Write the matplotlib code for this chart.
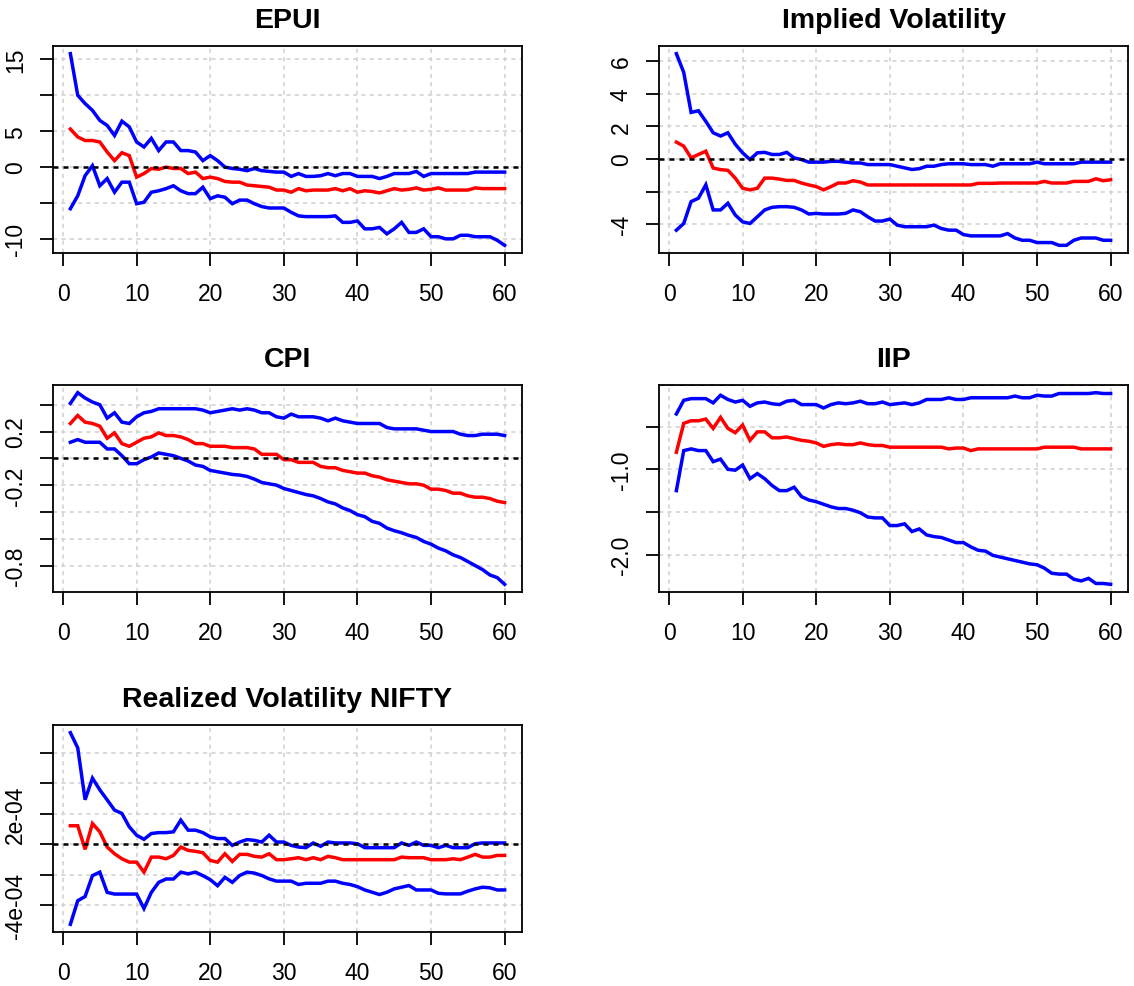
import numpy as np
import matplotlib
matplotlib.use("Agg")
import matplotlib.pyplot as plt

plt.rcParams['font.family'] = ['Liberation Sans', 'DejaVu Sans']

horizon = list(range(1, 61))

titles = ["EPUI", "Implied Volatility", "CPI", "IIP", "Realized Volatility NIFTY"]

epui_upper = [15.8, 10.0, 8.85, 7.9, 6.5, 5.8, 4.4, 6.4, 5.6, 3.5,
              2.8, 4.0, 2.3, 3.5, 3.5, 2.3, 2.3, 2.1, 0.9, 1.6,
              0.9, 0.0, -0.2, -0.3, -0.5, -0.2, -0.5, -0.6, -0.7, -0.7,
              -1.3, -0.9, -1.3, -1.3, -1.2, -0.9, -1.2, -0.9, -0.9, -1.3,
              -1.3, -1.3, -1.6, -1.3, -0.9, -0.9, -0.9, -0.6, -1.3, -0.9,
              -0.9, -0.9, -0.9, -0.9, -0.9, -0.7, -0.7, -0.7, -0.7, -0.7]
epui_irf = [5.3, 4.2, 3.7, 3.7, 3.5, 2.1, 0.9, 2.0, 1.6, -1.4,
            -0.9, -0.2, -0.3, 0.0, -0.2, -0.2, -0.9, -0.7, -1.6, -1.4,
            -1.6, -2.0, -2.1, -2.1, -2.5, -2.6, -2.7, -2.8, -3.2, -3.2,
            -3.5, -3.0, -3.3, -3.2, -3.2, -3.2, -3.0, -3.3, -3.0, -3.5,
            -3.3, -3.4, -3.6, -3.3, -3.0, -3.2, -3.1, -2.9, -3.2, -3.1,
            -2.9, -3.2, -3.2, -3.2, -3.2, -2.9, -3.0, -3.0, -3.0, -3.0]
epui_lower = [-5.8, -4.0, -1.2, 0.2, -2.6, -1.6, -3.5, -2.1, -2.1, -5.1,
              -4.9, -3.5, -3.3, -3.0, -2.6, -3.3, -3.7, -3.7, -2.8, -4.4,
              -4.0, -4.2, -5.1, -4.6, -4.6, -5.1, -5.5, -5.7, -5.7, -5.7,
              -6.3, -6.8, -6.9, -6.9, -6.9, -6.9, -6.8, -7.7, -7.7, -7.5,
              -8.6, -8.6, -8.4, -9.3, -8.6, -7.7, -9.1, -9.1, -8.6, -9.7,
              -9.7, -10.0, -10.0, -9.5, -9.5, -9.7, -9.7, -9.7, -10.2, -10.9]

iv_upper = [6.45, 5.3, 2.85, 2.95, 2.3, 1.6, 1.4, 1.6, 0.9, 0.37,
            -0.04, 0.37, 0.4, 0.27, 0.27, 0.4, 0.06, -0.04, -0.2, -0.2,
            -0.2, -0.15, -0.15, -0.2, -0.25, -0.25, -0.35, -0.35, -0.35, -0.35,
            -0.45, -0.55, -0.65, -0.6, -0.45, -0.45, -0.35, -0.3, -0.3, -0.3,
            -0.35, -0.35, -0.35, -0.45, -0.3, -0.3, -0.3, -0.3, -0.3, -0.2,
            -0.3, -0.3, -0.3, -0.3, -0.3, -0.2, -0.2, -0.2, -0.2, -0.2]
iv_irf = [1.03, 0.78, 0.06, 0.27, 0.47, -0.56, -0.66, -0.7, -1.18, -1.8,
          -1.9, -1.8, -1.18, -1.18, -1.24, -1.32, -1.32, -1.48, -1.6, -1.7,
          -1.9, -1.7, -1.48, -1.48, -1.34, -1.42, -1.6, -1.6, -1.6, -1.6,
          -1.6, -1.6, -1.6, -1.6, -1.6, -1.6, -1.6, -1.6, -1.6, -1.6,
          -1.6, -1.5, -1.5, -1.5, -1.48, -1.48, -1.48, -1.48, -1.48, -1.48,
          -1.38, -1.48, -1.48, -1.48, -1.38, -1.38, -1.38, -1.22, -1.34, -1.28]
iv_lower = [-4.37, -3.96, -2.62, -2.41, -1.59, -3.13, -3.13, -2.72, -3.44, -3.86,
            -3.96, -3.55, -3.13, -2.97, -2.93, -2.93, -2.97, -3.13, -3.38, -3.34,
            -3.38, -3.38, -3.38, -3.34, -3.13, -3.24, -3.55, -3.81, -3.81, -3.69,
            -4.06, -4.16, -4.16, -4.16, -4.16, -4.06, -4.27, -4.37, -4.37, -4.64,
            -4.72, -4.72, -4.72, -4.72, -4.72, -4.58, -4.85, -4.99, -4.99, -5.13,
            -5.13, -5.13, -5.3, -5.3, -4.99, -4.85, -4.85, -4.85, -4.99, -4.99]

cpi_upper = [0.41, 0.49, 0.45, 0.42, 0.40, 0.30, 0.34, 0.27, 0.26, 0.31,
             0.34, 0.35, 0.37, 0.37, 0.37, 0.37, 0.37, 0.37, 0.36, 0.34,
             0.35, 0.36, 0.37, 0.36, 0.37, 0.36, 0.34, 0.34, 0.31, 0.30,
             0.33, 0.31, 0.31, 0.31, 0.30, 0.28, 0.30, 0.28, 0.27, 0.26,
             0.26, 0.26, 0.26, 0.23, 0.22, 0.22, 0.22, 0.22, 0.21, 0.20,
             0.20, 0.20, 0.20, 0.18, 0.17, 0.17, 0.18, 0.18, 0.18, 0.17]
cpi_irf = [0.26, 0.32, 0.27, 0.26, 0.24, 0.15, 0.19, 0.11, 0.09, 0.12,
           0.15, 0.16, 0.19, 0.17, 0.17, 0.16, 0.14, 0.11, 0.11, 0.09,
           0.09, 0.09, 0.08, 0.08, 0.08, 0.07, 0.03, 0.03, 0.03, -0.01,
           -0.01, -0.03, -0.03, -0.03, -0.06, -0.07, -0.07, -0.09, -0.10, -0.11,
           -0.11, -0.13, -0.14, -0.16, -0.17, -0.18, -0.19, -0.19, -0.20, -0.23,
           -0.23, -0.24, -0.26, -0.26, -0.28, -0.29, -0.29, -0.30, -0.32, -0.33]
cpi_lower = [0.12, 0.14, 0.12, 0.12, 0.12, 0.07, 0.07, 0.02, -0.04, -0.04,
             -0.01, 0.01, 0.04, 0.03, 0.02, 0.00, -0.02, -0.05, -0.06, -0.09,
             -0.10, -0.11, -0.12, -0.125, -0.135, -0.155, -0.18, -0.19, -0.20, -0.225,
             -0.24, -0.255, -0.27, -0.28, -0.30, -0.325, -0.34, -0.37, -0.39, -0.42,
             -0.435, -0.47, -0.485, -0.52, -0.54, -0.555, -0.575, -0.59, -0.62, -0.64,
             -0.67, -0.69, -0.72, -0.74, -0.77, -0.80, -0.83, -0.87, -0.89, -0.94]

iip_upper = [-0.35, -0.19, -0.17, -0.17, -0.17, -0.22, -0.13, -0.18, -0.21, -0.19,
             -0.26, -0.22, -0.21, -0.23, -0.24, -0.20, -0.19, -0.24, -0.24, -0.24,
             -0.28, -0.24, -0.22, -0.23, -0.22, -0.20, -0.23, -0.23, -0.21, -0.24,
             -0.23, -0.22, -0.24, -0.22, -0.18, -0.18, -0.18, -0.16, -0.18, -0.18,
             -0.16, -0.16, -0.16, -0.16, -0.16, -0.16, -0.14, -0.16, -0.16, -0.13,
             -0.14, -0.14, -0.11, -0.11, -0.11, -0.11, -0.11, -0.10, -0.11, -0.11]
iip_irf = [-0.80, -0.46, -0.43, -0.43, -0.41, -0.52, -0.39, -0.52, -0.57, -0.48,
           -0.66, -0.56, -0.56, -0.63, -0.63, -0.62, -0.64, -0.66, -0.67, -0.69,
           -0.73, -0.71, -0.70, -0.71, -0.71, -0.69, -0.71, -0.72, -0.72, -0.74,
           -0.74, -0.74, -0.74, -0.74, -0.74, -0.74, -0.74, -0.76, -0.75, -0.75,
           -0.78, -0.76, -0.76, -0.76, -0.76, -0.76, -0.76, -0.76, -0.76, -0.76,
           -0.74, -0.74, -0.74, -0.74, -0.74, -0.76, -0.76, -0.76, -0.76, -0.76]
iip_lower = [-1.25, -0.78, -0.76, -0.78, -0.78, -0.91, -0.88, -1.00, -1.01, -0.95,
             -1.11, -1.05, -1.11, -1.19, -1.25, -1.25, -1.21, -1.32, -1.36, -1.38,
             -1.41, -1.44, -1.46, -1.46, -1.48, -1.51, -1.56, -1.57, -1.57, -1.66,
             -1.66, -1.64, -1.73, -1.70, -1.77, -1.79, -1.80, -1.83, -1.86, -1.86,
             -1.91, -1.95, -1.96, -2.01, -2.03, -2.05, -2.07, -2.09, -2.11, -2.12,
             -2.16, -2.22, -2.23, -2.23, -2.29, -2.31, -2.28, -2.34, -2.34, -2.35]

# realized volatility values in units of 1e-04
rv_upper = [7.34, 6.34, 2.93, 4.35, 3.58, 2.92, 2.25, 2.03, 1.15, 0.60,
            0.33, 0.71, 0.77, 0.77, 0.82, 1.59, 0.93, 0.93, 0.77, 0.49,
            0.38, 0.38, -0.07, 0.15, 0.31, 0.26, 0.15, 0.60, 0.15, 0.15,
            -0.07, -0.18, -0.22, 0.09, -0.13, 0.15, 0.09, 0.09, 0.09, 0.04,
            -0.22, -0.22, -0.22, -0.22, -0.22, 0.09, -0.07, 0.15, -0.07, -0.07,
            -0.22, -0.07, -0.22, -0.22, -0.22, 0.04, 0.09, 0.09, 0.09, 0.09]
rv_irf = [1.22, 1.22, -0.33, 1.37, 0.82, -0.18, -0.62, -0.95, -1.17, -1.17,
          -1.83, -0.84, -0.84, -0.95, -0.73, -0.18, -0.40, -0.46, -0.55, -1.06,
          -1.17, -0.62, -1.13, -0.66, -0.66, -0.79, -0.84, -0.62, -1.01, -1.01,
          -0.95, -0.88, -1.01, -0.88, -1.01, -0.79, -0.88, -1.01, -1.01, -1.01,
          -1.01, -1.01, -1.01, -1.01, -1.01, -0.84, -0.88, -0.88, -0.88, -1.01,
          -1.01, -1.01, -0.95, -1.01, -0.84, -0.66, -0.84, -0.84, -0.73, -0.73]
rv_lower = [-5.26, -3.71, -3.43, -2.06, -1.83, -3.16, -3.27, -3.27, -3.27, -3.27,
            -4.22, -3.16, -2.50, -2.28, -2.28, -1.83, -1.94, -1.83, -2.06, -2.32,
            -2.72, -2.17, -2.50, -2.05, -1.83, -1.89, -2.05, -2.27, -2.42, -2.42,
            -2.42, -2.64, -2.56, -2.56, -2.56, -2.42, -2.42, -2.56, -2.64, -2.78,
            -3.00, -3.15, -3.30, -3.15, -2.93, -2.82, -2.71, -3.00, -3.00, -3.00,
            -3.22, -3.26, -3.26, -3.26, -3.08, -2.93, -2.82, -2.86, -3.00, -3.00]
rv_unit = 1e-4

x_ticks = [0, 10, 20, 30, 40, 50, 60]

epui_yticks = [-10, -5, 0, 5, 10, 15]
epui_ylabels = ["-10", "", "0", "5", "", "15"]
iv_yticks = [-4, -2, 0, 2, 4, 6]
iv_ylabels = ["-4", "", "0", "2", "4", "6"]
cpi_yticks = [-0.8, -0.6, -0.4, -0.2, 0.0, 0.2, 0.4]
cpi_ylabels = ["-0.8", "", "", "-0.2", "", "0.2", ""]
iip_yticks = [-2.0, -1.5, -1.0, -0.5]
iip_ylabels = ["-2.0", "", "-1.0", ""]
rv_yticks = [-4e-4, -2e-4, 0.0, 2e-4, 4e-4, 6e-4]
rv_ylabels = ["-4e-04", "", "", "2e-04", "", ""]

panels = [
    (titles[0], epui_lower, epui_irf, epui_upper, 1.0, epui_yticks, epui_ylabels),
    (titles[1], iv_lower, iv_irf, iv_upper, 1.0, iv_yticks, iv_ylabels),
    (titles[2], cpi_lower, cpi_irf, cpi_upper, 1.0, cpi_yticks, cpi_ylabels),
    (titles[3], iip_lower, iip_irf, iip_upper, 1.0, iip_yticks, iip_ylabels),
    (titles[4], rv_lower, rv_irf, rv_upper, rv_unit, rv_yticks, rv_ylabels),
]

W, H = 1134, 987
fig = plt.figure(figsize=(W / 100, H / 100), dpi=100)

col_left = [53 / W, 659 / W]
ax_w = 469 / W
row_top = [47, 386, 726]
box_h = 207
ax_h = box_h / H

def px2pt(p):
    return p * 72 / 100

for i, (title, lo, mid, up, scale, yt, yl) in enumerate(panels):
    r, c = divmod(i, 2)
    left = col_left[c]
    bottom = 1 - (row_top[r] + box_h) / H
    ax = fig.add_axes([left, bottom, ax_w, ax_h])
    x = np.array(horizon)
    lo = np.array(lo) * scale
    mid = np.array(mid) * scale
    up = np.array(up) * scale
    # R-style 4% axis padding
    xr = x.max() - x.min()
    ax.set_xlim(x.min() - 0.04 * xr, x.max() + 0.04 * xr)
    ymin = min(lo.min(), mid.min(), up.min())
    ymax = max(lo.max(), mid.max(), up.max())
    yr = ymax - ymin
    ax.set_ylim(ymin - 0.04 * yr, ymax + 0.04 * yr)

    ax.set_xticks(x_ticks)
    ax.set_xticklabels([str(t) for t in x_ticks])
    ax.set_yticks(yt)
    ax.set_yticklabels(yl, rotation=90, va='center')

    ax.grid(True, color='#d3d3d3', linestyle=(0, (2.5, 2.5)), linewidth=1.2)
    ax.set_axisbelow(True)

    ax.plot(x, up, color='#0000ff', linewidth=2.5, solid_joinstyle='miter', zorder=3)
    ax.plot(x, mid, color='#ff0000', linewidth=2.5, solid_joinstyle='miter', zorder=3)
    ax.plot(x, lo, color='#0000ff', linewidth=2.5, solid_joinstyle='miter', zorder=3)
    ax.axhline(0, color='black', linewidth=1.8, linestyle=(0, (2, 2)), zorder=4)

    for s in ax.spines.values():
        s.set_linewidth(1.3)
        s.set_color('black')
    ax.tick_params(axis='both', direction='out', length=px2pt(13), width=1.3,
                   labelsize=16.5, color='black', labelcolor='black')
    ax.tick_params(axis='x', pad=px2pt(16))
    ax.tick_params(axis='y', pad=px2pt(13))
    ax.set_title(title, fontsize=20.5, fontweight='bold', pad=14)

fig.savefig("out.png", dpi=100)
